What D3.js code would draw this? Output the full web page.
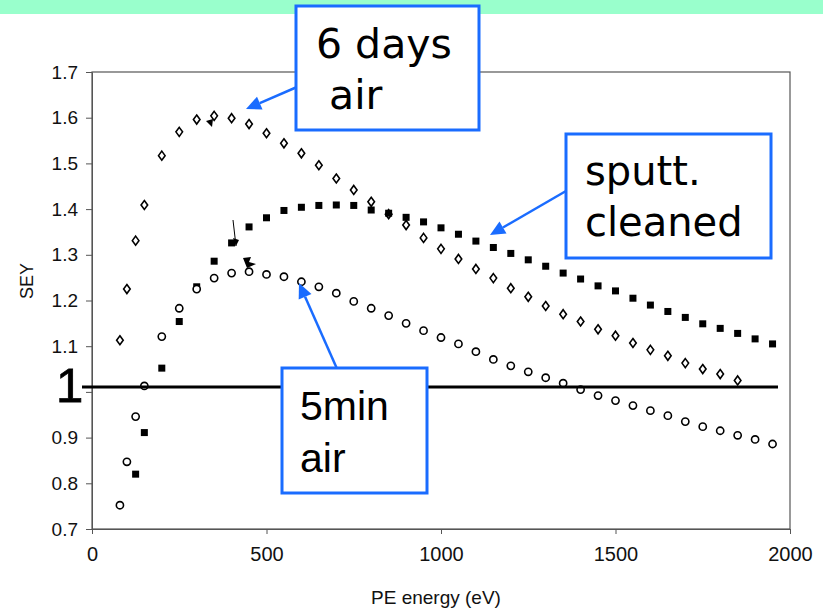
<!DOCTYPE html>
<html>
<head>
<meta charset="utf-8">
<script src="https://cdn.jsdelivr.net/npm/d3@7"></script>
<style>
  body { margin: 0; background: #fff; }
  svg { display: block; }
  .tick text { font-family: "Liberation Sans", Arial, sans-serif; fill: #111; }
</style>
</head>
<body>
<svg width="823" height="615"></svg>
<script>
// 6 days air (open diamonds)
var airDaysE = [80, 100, 125, 150, 200, 250, 300, 350, 400, 450, 500, 550, 600, 650, 700, 750,
  800, 850, 900, 950, 1000, 1050, 1100, 1150, 1200, 1250, 1300, 1350, 1400, 1450, 1500, 1550,
  1600, 1650, 1700, 1750, 1800, 1850];
var airDaysSEY = [1.113, 1.225, 1.331, 1.409, 1.517, 1.569, 1.596, 1.604, 1.599, 1.586, 1.566, 1.544,
  1.522, 1.496, 1.467, 1.442, 1.416, 1.389, 1.365, 1.337, 1.313, 1.291, 1.269, 1.249, 1.227, 1.208,
  1.188, 1.170, 1.154, 1.137, 1.123, 1.107, 1.092, 1.079, 1.063, 1.050, 1.039, 1.025];

// sputt. cleaned (filled squares)
var sputtE = [125, 150, 200, 250, 300, 350, 400, 450, 500, 550, 600, 650, 700, 750, 800, 850, 900,
  950, 1000, 1050, 1100, 1150, 1200, 1250, 1300, 1350, 1400, 1450, 1500, 1550, 1600, 1650, 1700,
  1750, 1800, 1850, 1900, 1950];
var sputtSEY = [0.820, 0.911, 1.052, 1.154, 1.230, 1.286, 1.326, 1.361, 1.381, 1.397, 1.404, 1.408,
  1.409, 1.408, 1.398, 1.391, 1.382, 1.372, 1.359, 1.345, 1.330, 1.316, 1.303, 1.289, 1.275, 1.260,
  1.247, 1.232, 1.221, 1.205, 1.190, 1.176, 1.163, 1.149, 1.139, 1.128, 1.116, 1.105];

// 5min air (open circles)
var airMinE = [80, 100, 125, 150, 200, 250, 300, 350, 400, 450, 500, 550, 600, 650, 700, 750, 800,
  850, 900, 950, 1000, 1050, 1100, 1150, 1200, 1250, 1300, 1350, 1400, 1450, 1500, 1550, 1600,
  1650, 1700, 1750, 1800, 1850, 1900, 1950];
var airMinSEY = [0.752, 0.847, 0.946, 1.013, 1.121, 1.183, 1.225, 1.249, 1.260, 1.263, 1.257, 1.252,
  1.241, 1.230, 1.216, 1.198, 1.183, 1.167, 1.150, 1.134, 1.119, 1.105, 1.088, 1.071, 1.057, 1.044,
  1.031, 1.019, 1.005, 0.992, 0.981, 0.970, 0.959, 0.948, 0.935, 0.924, 0.915, 0.905, 0.896, 0.886];

var xTicks = [0, 500, 1000, 1500, 2000];
var yTicks = [0.7, 0.8, 0.9, 1.0, 1.1, 1.2, 1.3, 1.4, 1.5, 1.6, 1.7];
var xTitle = "PE energy (eV)";
var yTitle = "SEY";

var svg = d3.select("svg");
var blue = "#1a6cff";

// green strip at the top
svg.append("rect").attr("x", 0).attr("y", 0).attr("width", 823).attr("height", 14)
    .attr("fill", "#99ffcc");

var x = d3.scaleLinear().domain([0, 2000]).range([92, 790]);
var y = d3.scaleLinear().domain([0.7, 1.7]).range([529, 72]);

// frame
svg.append("rect")
    .attr("x", x(0)).attr("y", y(1.7))
    .attr("width", x(2000) - x(0)).attr("height", y(0.7) - y(1.7))
    .attr("fill", "none").attr("stroke", "#555").attr("stroke-width", 1.2);

var xAxis = svg.append("g")
    .attr("transform", "translate(0," + y(0.7) + ")")
    .call(d3.axisBottom(x).tickValues(xTicks).tickSize(5).tickSizeOuter(0).tickPadding(13)
      .tickFormat(d3.format("d")));
xAxis.selectAll("text").style("font-size", "20px");

var yAxis = svg.append("g")
    .attr("transform", "translate(" + x(0) + ",0)")
    .call(d3.axisLeft(y).tickValues(yTicks).tickSize(6).tickSizeOuter(0).tickPadding(8)
      .tickFormat(function(d) { return d === 1.0 ? "" : d3.format(".1f")(d); }));
yAxis.selectAll("text").style("font-size", "19px");
svg.selectAll(".domain").attr("stroke", "#555");
svg.selectAll(".tick line").attr("stroke", "#555");

svg.append("text")
    .attr("x", x(1000) - 5).attr("y", 604)
    .attr("text-anchor", "middle")
    .style("font-family", "Liberation Sans, Arial, sans-serif")
    .style("font-size", "19px").attr("fill", "#111")
    .text(xTitle);

svg.append("text")
    .attr("transform", "translate(33,281) rotate(-90)")
    .attr("text-anchor", "middle")
    .style("font-family", "Liberation Sans, Arial, sans-serif")
    .style("font-size", "18px").attr("fill", "#111")
    .text(yTitle);

// data markers
var diamonds = d3.zip(airDaysE, airDaysSEY);
var squares = d3.zip(sputtE, sputtSEY);
var circles = d3.zip(airMinE, airMinSEY);

svg.append("g").selectAll("path")
    .data(diamonds)
    .enter().append("path")
    .attr("d", "M0,-4.5L3.3,0L0,4.5L-3.3,0Z")
    .attr("transform", function(d) { return "translate(" + x(d[0]) + "," + y(d[1]) + ")"; })
    .attr("fill", "#fff").attr("stroke", "#000").attr("stroke-width", 1.6);

svg.append("g").selectAll("rect")
    .data(squares)
    .enter().append("rect")
    .attr("x", function(d) { return x(d[0]) - 3.5; })
    .attr("y", function(d) { return y(d[1]) - 3.5; })
    .attr("width", 7).attr("height", 7)
    .attr("fill", "#000");

svg.append("g").selectAll("circle")
    .data(circles)
    .enter().append("circle")
    .attr("cx", function(d) { return x(d[0]); })
    .attr("cy", function(d) { return y(d[1]); })
    .attr("r", 3.6)
    .attr("fill", "#fff").attr("stroke", "#000").attr("stroke-width", 1.6);

// stray black arrow marks left in the scanned original
svg.append("path").attr("d", "M206,121L213,119L212,127Z").attr("fill", "#000");
svg.append("path").attr("d", "M233,220L236,246").attr("stroke", "#000").attr("stroke-width", 1).attr("fill", "none");
svg.append("path").attr("d", "M236,246L233,238L239,240Z").attr("fill", "#000");
svg.append("path").attr("d", "M243,258L247,268L256,264L249,262L251,257Z").attr("fill", "#000");

// SEY = 1 reference line and its big label
svg.append("line")
    .attr("x1", 82).attr("x2", 778)
    .attr("y1", 387).attr("y2", 387)
    .attr("stroke", "#000").attr("stroke-width", 3);
svg.append("text")
    .attr("x", 56).attr("y", 402)
    .style("font-family", "Liberation Sans, Arial, sans-serif")
    .style("font-size", "49px").attr("fill", "#000")
    .attr("stroke", "#000").attr("stroke-width", 0.8)
    .text("1");

// callout arrows
function arrow(x1, y1, x2, y2) {
  var a = Math.atan2(y2 - y1, x2 - x1);
  var len = 15, half = 7;
  var bx = x2 - len * Math.cos(a), by = y2 - len * Math.sin(a);
  svg.append("line")
      .attr("x1", x1).attr("y1", y1).attr("x2", bx).attr("y2", by)
      .attr("stroke", blue).attr("stroke-width", 2.5);
  svg.append("path")
      .attr("d", "M" + x2 + "," + y2 +
        "L" + (bx + half * Math.sin(a)) + "," + (by - half * Math.cos(a)) +
        "L" + (bx - half * Math.sin(a)) + "," + (by + half * Math.cos(a)) + "Z")
      .attr("fill", blue);
}

function callout(bx, by, bw, bh, lines, font, size, tx, ty, lh) {
  svg.append("rect")
      .attr("x", bx).attr("y", by).attr("width", bw).attr("height", bh)
      .attr("fill", "#fff").attr("stroke", blue).attr("stroke-width", 3);
  var t = svg.append("text")
      .style("font-family", font).style("font-size", size + "px")
      .attr("fill", "#000").attr("xml:space", "preserve");
  lines.forEach(function(s, i) {
    t.append("tspan").attr("x", tx).attr("y", ty + i * lh).text(s);
  });
}

arrow(297, 87, 246, 109);
callout(296, 6, 183, 124, ["6 days", " air"], "DejaVu Sans", 41, 316, 58, 51);

arrow(566, 191, 490, 235);
callout(566, 134, 205, 124, ["sputt.", "cleaned"], "DejaVu Sans", 40, 585, 185, 51);

arrow(338, 371, 299, 283);
callout(282, 368, 145, 125, ["5min", "air"], "Liberation Sans, Arial, sans-serif", 41, 300, 420, 52);
</script>
</body>
</html>
